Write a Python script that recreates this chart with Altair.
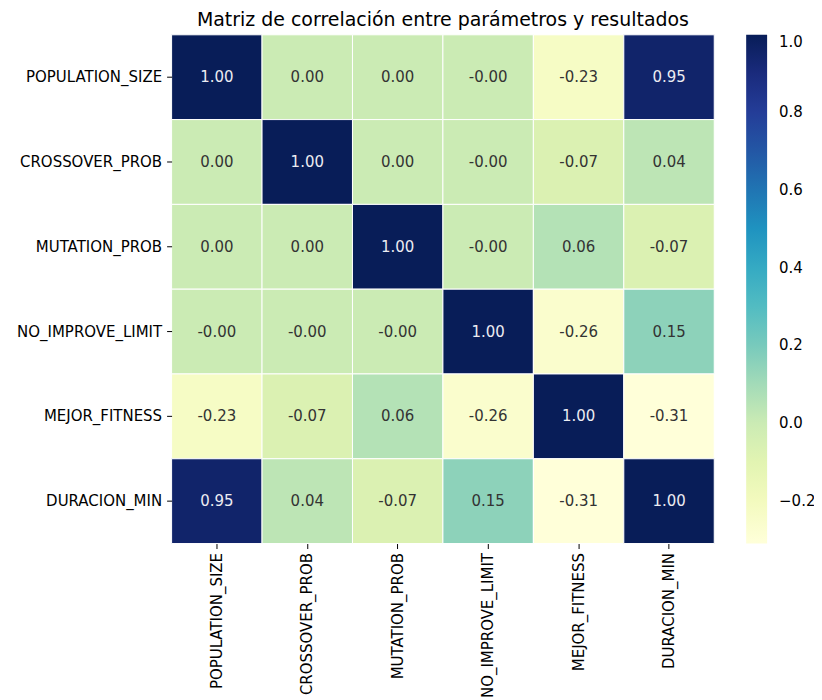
import altair as alt
import pandas as pd

variables = ["POPULATION_SIZE", "CROSSOVER_PROB", "MUTATION_PROB",
             "NO_IMPROVE_LIMIT", "MEJOR_FITNESS", "DURACION_MIN"]

row_population = [1.00, 0.001, 0.001, -0.001, -0.23, 0.95]
row_crossover = [0.001, 1.00, 0.001, -0.001, -0.07, 0.04]
row_mutation = [0.001, 0.001, 1.00, -0.001, 0.06, -0.07]
row_noimprove = [-0.001, -0.001, -0.001, 1.00, -0.26, 0.15]
row_fitness = [-0.23, -0.07, 0.06, -0.26, 1.00, -0.31]
row_duracion = [0.95, 0.04, -0.07, 0.15, -0.31, 1.00]

rows = [row_population, row_crossover, row_mutation,
        row_noimprove, row_fitness, row_duracion]

colorbar_ticks = [-0.2, 0.0, 0.2, 0.4, 0.6, 0.8, 1.0]

# YlGnBu colour stops
ylgnbu = ["#ffffd9", "#edf8b1", "#c7e9b4", "#7fcdbb", "#41b6c4",
          "#1d91c0", "#225ea8", "#253494", "#081d58"]
vmin, vmax = -0.31, 1.0
stops = [vmin + (vmax - vmin) * i / (len(ylgnbu) - 1) for i in range(len(ylgnbu))]

records = []
for r, vals in zip(variables, rows):
    for c, v in zip(variables, vals):
        records.append({
            "fila": r,
            "columna": c,
            "valor": v,
            "etiqueta": f"{v:.2f}",
        })
df = pd.DataFrame(records)

FONT = "DejaVu Sans"

x_enc = alt.X("columna:N", sort=variables, title="",
              scale=alt.Scale(paddingInner=0, paddingOuter=0),
              axis=alt.Axis(labelAngle=270, domain=False, ticks=True,
                            tickSize=5, tickColor="#000000", labelColor="#000000",
                            labelFontSize=15, labelFont=FONT, labelPadding=4,
                            labelLimit=300))
y_enc = alt.Y("fila:N", sort=variables, title="",
              scale=alt.Scale(paddingInner=0, paddingOuter=0),
              axis=alt.Axis(domain=False, ticks=True, tickSize=5,
                            tickColor="#000000", labelColor="#000000",
                            labelFontSize=15, labelFont=FONT, labelPadding=5,
                            labelLimit=300))

rect = alt.Chart(df).mark_rect(stroke="white", strokeWidth=1).encode(
    x=x_enc,
    y=y_enc,
    color=alt.Color("valor:Q", title="",
                    scale=alt.Scale(domain=stops, range=ylgnbu, interpolate="rgb"),
                    legend=alt.Legend(orient="right", offset=32,
                                      gradientLength=510, gradientThickness=21,
                                      values=colorbar_ticks, format=".1f",
                                      labelFontSize=15, labelFont=FONT,
                                      labelColor="#000000", labelOverlap=False,
                                      labelOffset=12, gradientStrokeColor="#dddddd")),
)

text = alt.Chart(df).mark_text(font=FONT, fontSize=15).encode(
    x=alt.X("columna:N", sort=variables),
    y=alt.Y("fila:N", sort=variables),
    text="etiqueta:N",
    color=alt.condition(alt.datum.valor > 0.6, alt.value("#ececf2"), alt.value("#333333")),
)

chart = alt.layer(rect, text).properties(
    width=544,
    height=510,
    title=alt.TitleParams("Matriz de correlación entre parámetros y resultados",
                          font=FONT, fontSize=19, fontWeight="normal",
                          color="#000000", anchor="middle", offset=4),
    autosize=alt.AutoSizeParams(type="none"),
    padding={"left": 164, "top": 26, "right": 100, "bottom": 165},
).configure_view(strokeWidth=0)

chart.save("out.html", embed_options={"renderer": "svg", "actions": False})
